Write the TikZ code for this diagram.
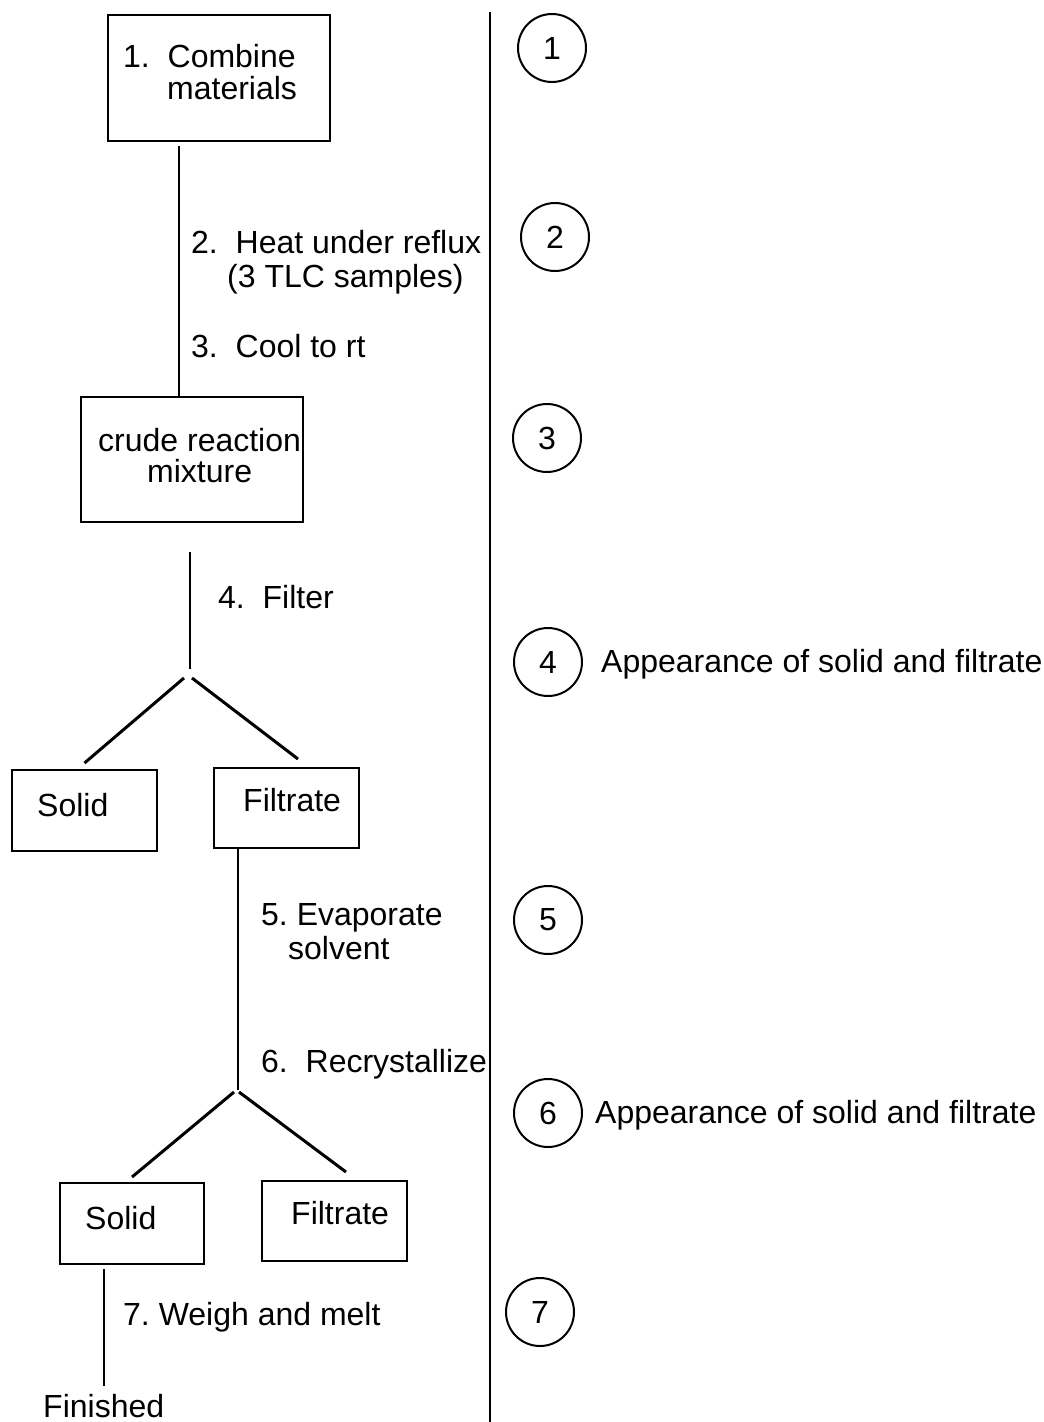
\documentclass[tikz,border=0pt]{standalone}
\usepackage{fontspec}
\setmainfont{Liberation Sans}
\frenchspacing
\begin{document}
\begin{tikzpicture}[x=1pt,y=-1pt,
  every node/.style={font=\fontsize{32}{34}\selectfont},
  txt/.style={anchor=base west, inner sep=0pt},
  box/.style={draw, line width=2pt, rectangle, anchor=north west, inner sep=0pt},
  num/.style={draw, circle, line width=2pt, minimum size=68pt, inner sep=0pt},
  conn/.style={line width=2pt},
  branch/.style={line width=3pt},
  divider/.style={line width=2.5pt}
]
\useasboundingbox (0,0) rectangle (1044,1422);

% boxes
\node[box, minimum width=222pt, minimum height=126pt] (b1) at (107,14) {};
\node[box, minimum width=222pt, minimum height=125pt] (b2) at (80,396) {};
\node[box, minimum width=145pt, minimum height=81pt] (b3) at (11,769) {};
\node[box, minimum width=145pt, minimum height=80pt] (b4) at (213,767) {};
\node[box, minimum width=144pt, minimum height=81pt] (b5) at (59,1182) {};
\node[box, minimum width=145pt, minimum height=80pt] (b6) at (261,1180) {};

% box texts
\node[txt] (t1a) at (123,67) {1.\ \ Combine};
\node[txt] (t1b) at (167,99) {materials};
\node[txt] (t2a) at (98,451) {crude reaction};
\node[txt] (t2b) at (147,482) {mixture};
\node[txt] (t3) at (37,816) {Solid};
\node[txt] (t4) at (243,811) {Filtrate};
\node[txt] (t5) at (85,1229) {Solid};
\node[txt] (t6) at (291,1224) {Filtrate};
\node[txt] (fin) at (43,1417) {Finished};

% step labels
\node[txt] (s2a) at (191,253) {2.\ \ Heat under reflux};
\node[txt] (s2b) at (227,287) {(3 TLC samples)};
\node[txt] (s3) at (191,357) {3.\ \ Cool to rt};
\node[txt] (s4) at (218,608) {4.\ \ Filter};
\node[txt] (s5a) at (261,925) {5. Evaporate};
\node[txt] (s5b) at (288,959) {solvent};
\node[txt] (s6) at (261,1072) {6.\ \ Recrystallize};
\node[txt] (s7) at (123,1325) {7. Weigh and melt};

% connector x positions and forks
\coordinate (x1) at (179,0);
\coordinate (x2) at (190,0);
\coordinate (x3) at (238,0);
\coordinate (x4) at (104,0);
\coordinate (f1) at (188,678);
\coordinate (f2) at (236.5,1092);

\draw[conn] ([yshift=-4pt]b1.south -| x1) -- (b2.north -| x1);
\draw[conn] ([yshift=-29pt]b2.south -| x2) -- ([yshift=9pt]f1 -| x2);
\draw[branch] ([xshift=-4pt]f1) -- ([yshift=6pt]b3.north);
\draw[branch] ([xshift=4pt]f1) -- ([shift={(11.5pt,8pt)}]b4.north);
\draw[conn] (b4.south -| x3) -- ([yshift=2pt]f2 -| x3);
\draw[branch] ([xshift=-2.5pt]f2) -- ([yshift=5pt]b5.north);
\draw[branch] ([xshift=2.5pt]f2) -- ([shift={(11.5pt,8pt)}]b6.north);
\draw[conn] ([yshift=-4pt]b5.south -| x4) -- ([yshift=8pt]fin.north -| x4);

% divider
\coordinate (dtop) at (490,12);
\coordinate (dbot) at (490,1422);
\draw[divider] (dtop) -- (dbot);

% numbered circles
\node[num] (c1) at (552,48) {1};
\node[num] (c2) at (555,237) {2};
\node[num] (c3) at (547,438) {3};
\node[num] (c4) at (548,662) {4};
\node[num] (c5) at (548,920) {5};
\node[num] (c6) at (548,1113) {6};
\node[num] (c7) at (540,1312) {7};

\node[txt] (a4) at (601,672) {Appearance of solid and filtrate};
\node[txt] (a6) at (595,1123) {Appearance of solid and filtrate};
\end{tikzpicture}
\end{document}
